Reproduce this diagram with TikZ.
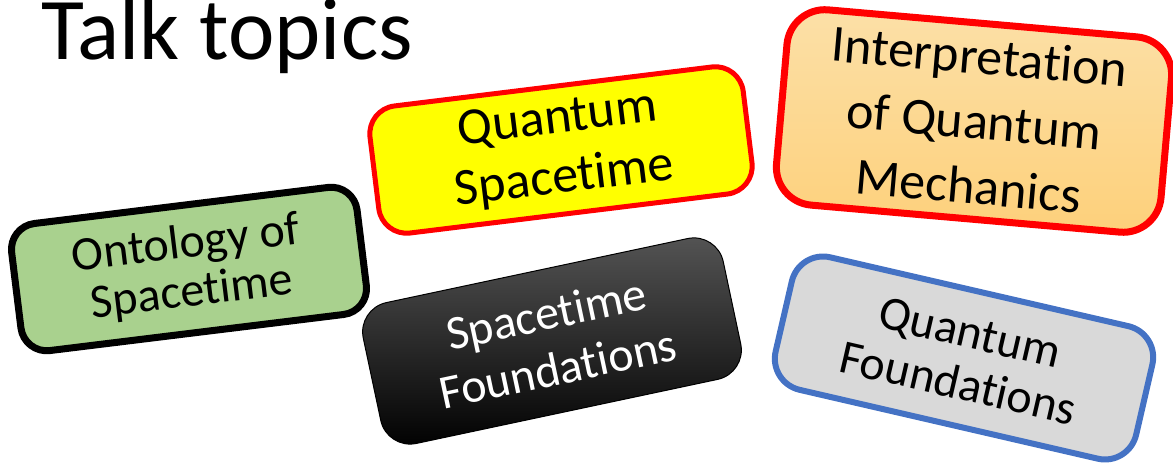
\documentclass[tikz,border=0pt]{standalone}
\usepackage{fontspec}
\setmainfont{Carlito}
\newcommand\noti{t\kern0pt i}
\definecolor{leaf}{HTML}{A9D18E}
\definecolor{lemon}{HTML}{FFFF00}
\definecolor{alert}{HTML}{FF0000}
\definecolor{peachtop}{HTML}{FCE0A8}
\definecolor{peachbot}{HTML}{FDD07A}
\definecolor{ash}{HTML}{D9D9D9}
\definecolor{steel}{HTML}{4472C4}
\definecolor{smoke}{HTML}{555555}

\begin{document}
\begin{tikzpicture}[x=.5pt,y=-.5pt,
  topic/.style={rectangle,align=center,text=black,inner sep=0pt}]
\useasboundingbox (0,0) rectangle (1173,469);
\node[anchor=base west,inner sep=0pt,font=\fontsize{44}{50}\selectfont] (title) at (41,60) {Talk topics};
% topic boxes
\node[topic,draw=black,line width=3.5pt,fill=leaf,rounded corners=13pt,minimum width=174pt,minimum height=64pt,rotate=7,font=\fontsize{24}{24.5}\selectfont] (onto) at (189,269) {Ontology of\\Space\noti me};
\node[topic,draw=alert,line width=2.5pt,fill=lemon,rounded corners=14pt,minimum width=188pt,minimum height=64pt,rotate=7,font=\fontsize{26}{30}\selectfont] (qst) at (561,150) {Quantum\\Space\noti me};
\node[topic,draw=alert,line width=3.5pt,top color=peachtop,bottom color=peachbot,rounded corners=19pt,minimum width=193pt,minimum height=98pt,rotate=-5,font=\fontsize{26}{32.5}\selectfont] (interp) at (974,121) {Interpreta\noti on\\of Quantum\\Mechanics};
\node[topic,draw=black,line width=.5pt,top color=smoke,middle color=black,bottom color=black,text=white,rounded corners=15pt,minimum width=184pt,minimum height=72pt,rotate=12,font=\fontsize{24}{28}\selectfont] (stf) at (552,341) {Space\noti me\\Founda\noti ons};
\node[topic,draw=steel,line width=3pt,fill=ash,rounded corners=16pt,minimum width=185pt,minimum height=68pt,rotate=-13,font=\fontsize{24}{26}\selectfont] (qf) at (964,358) {Quantum\\Founda\noti ons};
\end{tikzpicture}
\end{document}
